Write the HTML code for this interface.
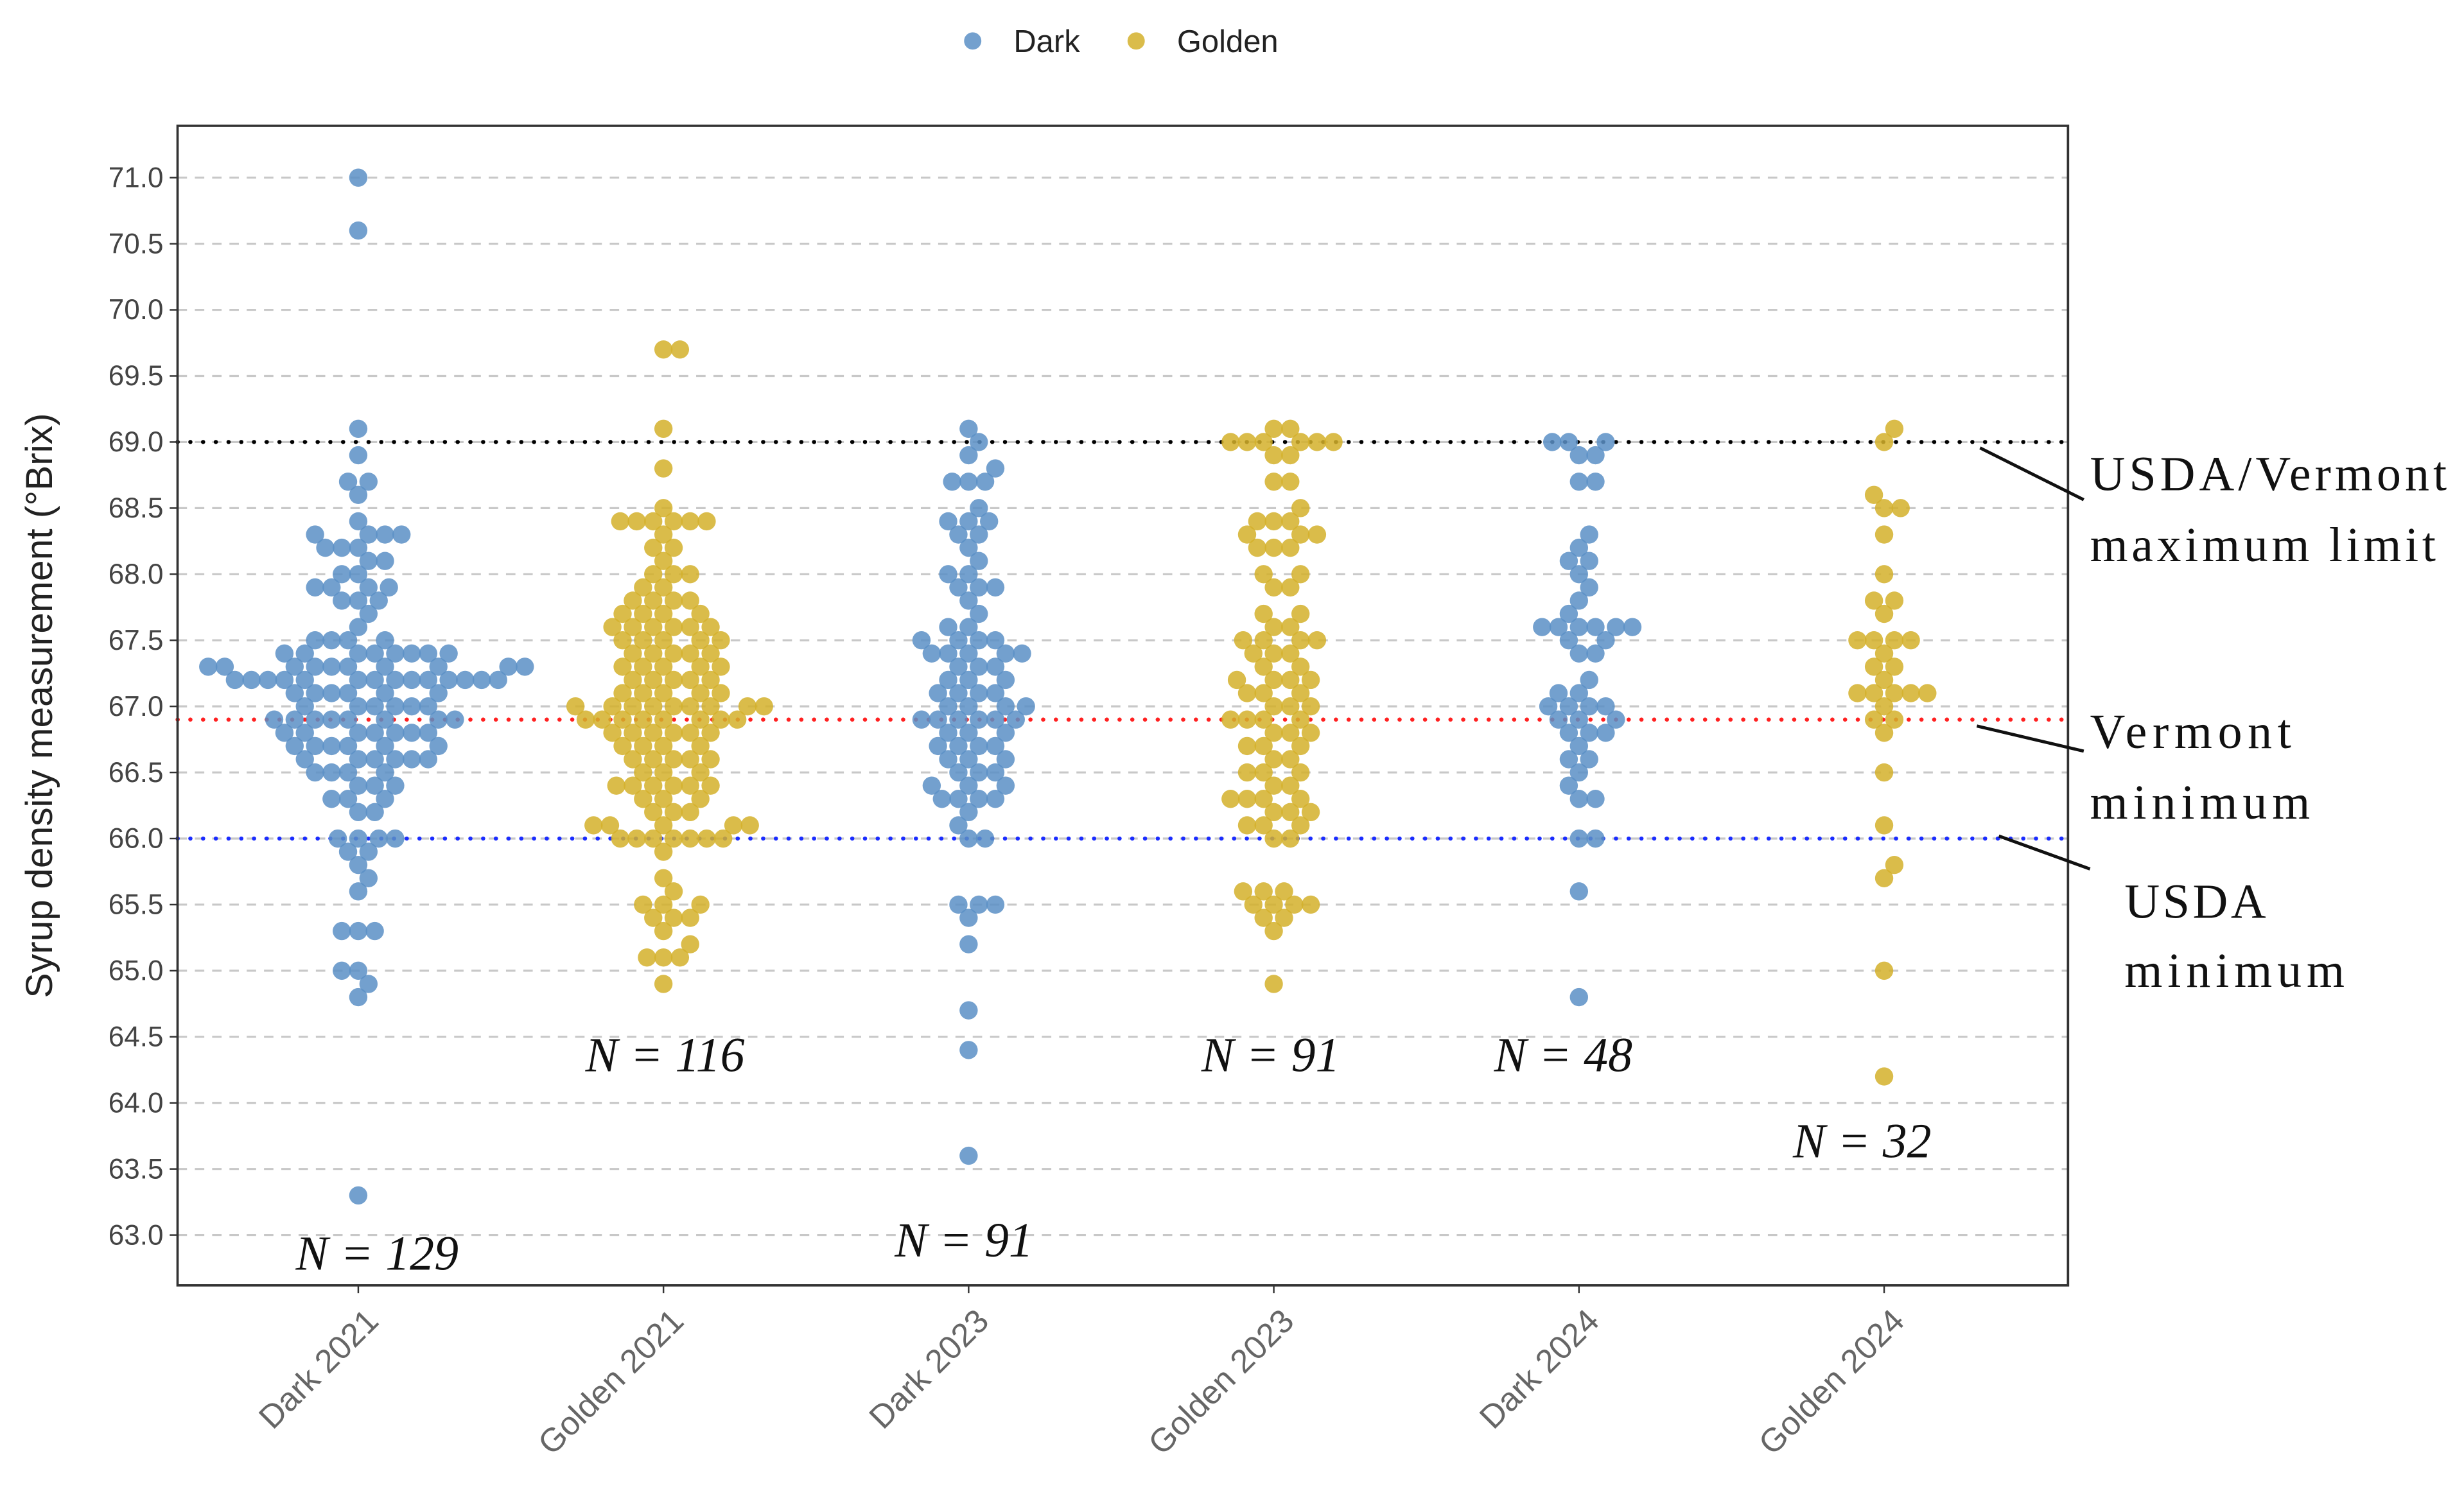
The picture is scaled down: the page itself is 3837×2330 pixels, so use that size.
<!DOCTYPE html>
<html><head><meta charset="utf-8"><style>
html,body{margin:0;padding:0;background:#fff;}
svg{display:block;}
</style></head><body>
<svg id="chart" width="3837" height="2330" viewBox="0 0 1568 952" xmlns="http://www.w3.org/2000/svg">
<g id="grid"></g>
<g id="refs"></g>
<g id="dots"></g>
<rect x="113" y="80" width="1203" height="738" fill="none" stroke="#333" stroke-width="1.5"/>
<g id="yticks"></g>
<g id="xticks"></g>
<text transform="translate(33,449) rotate(-90)" text-anchor="middle" font-family="Liberation Sans, sans-serif" font-size="24" fill="#222">Syrup density measurement (°Brix)</text>
<g font-family="Liberation Sans, sans-serif" font-size="20" fill="#222">
<g><circle cx="619" cy="26" r="5.5" fill="#5b8fc6" opacity="0.85"/><text x="645" y="33">Dark</text></g>
<g><circle cx="723" cy="26" r="5.5" fill="#d4b02a" opacity="0.85"/><text x="749" y="33">Golden</text></g>
</g>
<g font-family="Liberation Serif, serif" font-size="31" fill="#111">
<line x1="1260" y1="285" x2="1326" y2="318" stroke="#111" stroke-width="2"/>
<text x="1330" y="312" textLength="227">USDA/Vermont</text>
<text x="1330" y="357" textLength="220">maximum limit</text>
<line x1="1258" y1="462" x2="1326" y2="478" stroke="#111" stroke-width="2"/>
<text x="1330" y="476" textLength="128">Vermont</text>
<text x="1330" y="521" textLength="140">minimum</text>
<line x1="1272" y1="532" x2="1330" y2="553" stroke="#111" stroke-width="2"/>
<text x="1352" y="584" textLength="90">USDA</text>
<text x="1352" y="628" textLength="140">minimum</text>
</g>
<g id="nlabels" font-family="Liberation Serif, serif" font-style="italic" font-size="31" fill="#111" text-anchor="middle"></g>
</svg>
<script>
const categories=["Dark 2021","Golden 2021","Dark 2023","Golden 2023","Dark 2024","Golden 2024"];
const yTicks=[63.0,63.5,64.0,64.5,65.0,65.5,66.0,66.5,67.0,67.5,68.0,68.5,69.0,69.5,70.0,70.5,71.0];
const refValues=[69.0,66.9,66.0];
const refColors=["#000","#ff2020","#1a2cff"];
const nLabels=["N = 129","N = 116","N = 91","N = 91","N = 48","N = 32"];
const nLabelY=[63.0,64.5,63.1,64.5,64.5,63.85];
const nLabelDx=[12,1,-3,-2,-10,-14];
function R(pairs){const o=[];for(const p of pairs){if(Array.isArray(p)){for(let i=0;i<p[1];i++)o.push(p[0]);}else o.push(p);}return o;}
const dark2021=R([71.0,70.6,69.1,68.9,[68.7,2],68.6,68.4,[68.3,4],[68.2,3],[68.1,2],[68.0,2],[67.9,4],[67.8,3],67.7,67.6,[67.5,4],[67.4,8],[67.3,10],[67.2,14],[67.1,6],[67.0,6],[66.9,8],[66.8,7],[66.7,6],[66.6,6],[66.5,4],[66.4,3],[66.3,3],[66.2,2],[66.0,4],[65.9,2],65.8,65.7,65.6,[65.3,3],[65.0,2],64.9,64.8,63.3]);
const golden2021=R([[69.7,2],69.1,68.8,68.5,[68.4,6],68.3,[68.2,2],68.1,[68.0,3],[67.9,2],[67.8,4],[67.7,4],[67.6,6],[67.5,5],[67.4,5],[67.3,5],[67.2,5],[67.1,5],[67.0,9],[66.9,8],[66.8,6],[66.7,4],[66.6,5],[66.5,3],[66.4,6],[66.3,3],[66.2,3],[66.1,5],[66.0,7],65.9,65.7,65.6,[65.5,3],[65.4,3],65.3,65.2,[65.1,3],64.9]);
const dark2023=R([69.1,69.0,68.9,68.8,[68.7,3],68.5,[68.4,3],[68.3,2],68.2,68.1,[68.0,2],[67.9,3],67.8,67.7,[67.6,2],[67.5,4],[67.4,5],[67.3,3],[67.2,3],[67.1,4],[67.0,4],[66.9,6],[66.8,3],[66.7,4],[66.6,3],[66.5,3],[66.4,3],[66.3,4],66.2,66.1,[66.0,2],[65.5,3],65.4,65.2,64.7,64.4,63.6]);
const golden2023=R([[69.1,2],[69.0,6],[68.9,2],[68.7,2],68.5,[68.4,3],[68.3,3],[68.2,3],[68.0,2],[67.9,2],[67.7,2],[67.6,2],[67.5,4],[67.4,3],[67.3,2],[67.2,4],[67.1,3],[67.0,3],[66.9,4],[66.8,3],[66.7,3],[66.6,2],[66.5,3],[66.4,2],[66.3,4],[66.2,3],[66.1,3],[66.0,2],[65.6,3],[65.5,4],[65.4,2],65.3,64.9]);
const dark2024=R([[69.0,3],[68.9,2],[68.7,2],68.3,68.2,[68.1,2],68.0,67.9,67.8,67.7,[67.6,6],[67.5,2],[67.4,2],67.2,[67.1,2],[67.0,4],[66.9,3],[66.8,3],66.7,[66.6,2],66.5,66.4,[66.3,2],[66.0,2],65.6,64.8]);
const golden2024=R([69.1,69.0,68.6,[68.5,2],68.3,68.0,[67.8,2],67.7,[67.5,4],67.4,[67.3,2],67.2,[67.1,5],67.0,[66.9,2],66.8,66.5,66.1,65.8,65.7,65.0,64.2]);
const seriesValues=[dark2021,golden2021,dark2023,golden2023,dark2024,golden2024];
const seriesColors=["#5b8fc6","#d4b02a","#5b8fc6","#d4b02a","#5b8fc6","#d4b02a"];

const NS="http://www.w3.org/2000/svg";
const X0=228,XSTEP=194.2;
const yScale=v=>113+(71-v)*(786-113)/8;
const xScale=i=>X0+i*XSTEP;
function mk(tag,attrs,parent){const e=document.createElementNS(NS,tag);for(const k in attrs)e.setAttribute(k,attrs[k]);parent.appendChild(e);return e;}
const grid=document.getElementById('grid'),yt=document.getElementById('yticks'),xt=document.getElementById('xticks');
yTicks.forEach(t=>{
  const l=mk('line',{x1:113,x2:1316,y1:yScale(t),y2:yScale(t),stroke:'#c8c8c8','stroke-width':1.3,'stroke-dasharray':'6,5'},grid);
  
  
  mk('line',{x1:108,x2:113,y1:yScale(t),y2:yScale(t),stroke:'#333','stroke-width':1},yt);
  const tx=mk('text',{x:104,y:yScale(t)+6,'text-anchor':'end','font-family':'Liberation Sans, sans-serif','font-size':18,fill:'#444'},yt);
  tx.textContent=t.toFixed(1);
  
  
});
categories.forEach((c,i)=>{
  const x=xScale(i);
  mk('line',{x1:x,x2:x,y1:818,y2:823,stroke:'#333','stroke-width':1},xt);
  const tx=mk('text',{transform:`translate(${x+14},${842}) rotate(-45)`,'text-anchor':'end','font-family':'Liberation Sans, sans-serif','font-size':21,fill:'#666'},xt);
  tx.textContent=c;
  
  
});
const refs=document.getElementById('refs');
refValues.forEach((v,i)=>{
  const l=mk('line',{x1:113,x2:1316,y1:yScale(v),y2:yScale(v),stroke:refColors[i],'stroke-width':2.6,'stroke-dasharray':'0.1,8','stroke-linecap':'round'},refs);
  
  
});
const dots=document.getElementById('dots');
const r=5.8,minD=10.5;
seriesValues.forEach((vals,i)=>{
  const cx=xScale(i);
  const placed=[];
  const sorted=[...vals].sort((a,b)=>a-b);
  sorted.forEach(v=>{
    const y=yScale(v);
    let best=0;
    for(let k=0;k<600;k++){
      const d=(k%2?1:-1)*Math.ceil(k/2)*0.5;
      if(placed.every(p=>(p[0]-d)**2+(p[1]-y)**2>=minD*minD)){best=d;break;}
    }
    placed.push([best,y]);
    const c=mk('circle',{cx:cx+best,cy:y,r:r,fill:seriesColors[i],'fill-opacity':0.85},dots);
    
    
  });
});
const nl=document.getElementById('nlabels');
nLabels.forEach((t,i)=>{
  const tx=mk('text',{x:xScale(i)+nLabelDx[i],y:yScale(nLabelY[i])+22},nl);
  tx.textContent=t;
  
  
});
</script>
</body></html>
